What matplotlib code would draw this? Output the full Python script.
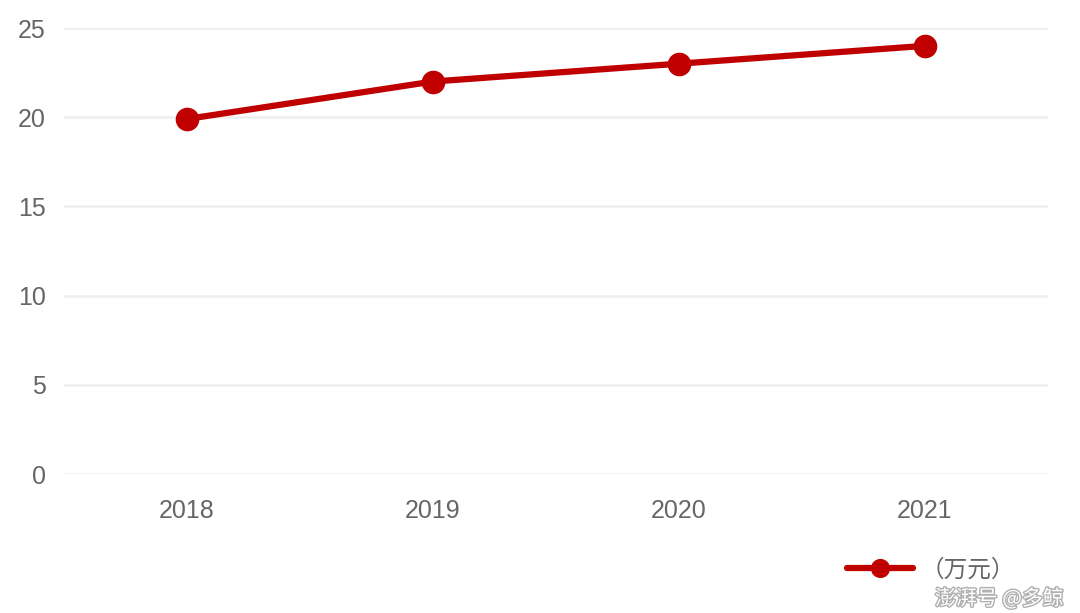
import matplotlib
matplotlib.use("Agg")
import matplotlib.pyplot as plt
import matplotlib.patheffects as pe

plt.rcParams['font.family'] = ['Noto Sans CJK SC', 'DejaVu Sans']

years = ["2018", "2019", "2020", "2021"]
values = [19.9, 22.0, 23.0, 24.0]
yticks = [0, 5, 10, 15, 20, 25]
series_label = "（万元）"

fig = plt.figure(figsize=(10.8, 6.13), dpi=100)
ax = fig.add_axes([64 / 1080, 1 - 474 / 613, (1048 - 64) / 1080, (474 - 28) / 613])

red = "#c00000"
ax.plot(range(len(years)), values, color=red, linewidth=4.5, marker="o",
        markersize=16, solid_capstyle="round", label=series_label, zorder=3)

ax.set_xlim(-0.5, len(years) - 0.5)
ax.set_ylim(0, 25)
ax.set_xticks(range(len(years)))
ax.set_xticklabels(years)
ax.set_yticks(yticks)
ax.grid(axis="y", color="#eeeeee", linewidth=1.8)
ax.set_axisbelow(True)
for s in ax.spines.values():
    s.set_visible(False)
ax.tick_params(axis="both", length=0, labelsize=18, labelcolor="#666666")
ax.tick_params(axis="x", pad=18)
ax.tick_params(axis="y", pad=13)
for t in ax.get_xticklabels() + ax.get_yticklabels():
    t.set_family("Liberation Sans")

leg = ax.legend(loc="center left", bbox_to_anchor=(826 / 1080, 1 - 570 / 613),
                bbox_transform=fig.transFigure, frameon=False, fontsize=17,
                handlelength=2.8, handletextpad=0.3, markerscale=0.8,
                labelcolor="#666666")

# watermark
fig.text(0.985, 0.005, "澎湃号 @多鲸", ha="right", va="bottom", fontsize=15,
         color="white", style="italic",
         path_effects=[pe.withStroke(linewidth=2, foreground="#b0b0b0")])

fig.savefig("out.png", dpi=100)
